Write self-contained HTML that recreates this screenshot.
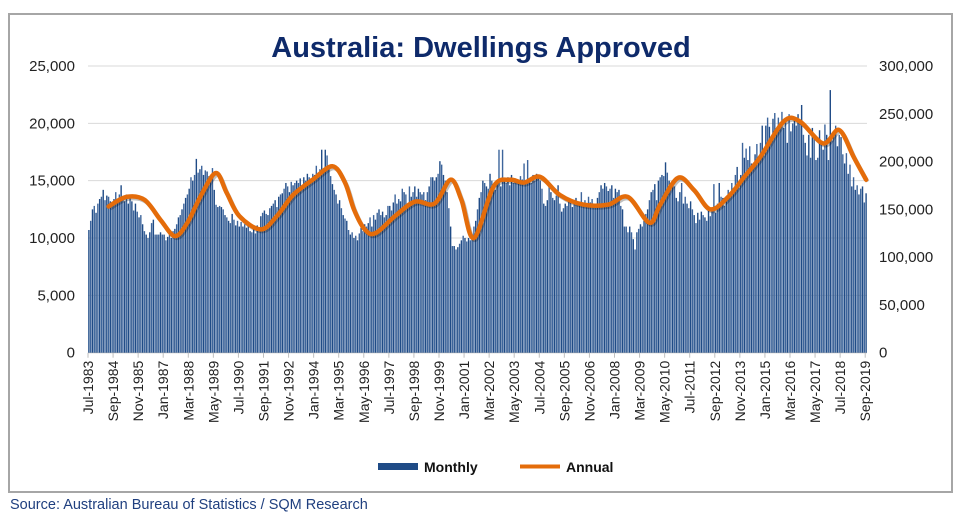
<!DOCTYPE html>
<html><head><meta charset="utf-8">
<style>
body{margin:0;background:#fff;width:964px;height:524px;overflow:hidden;font-family:"Liberation Sans",Arial,sans-serif}
#frame{position:absolute;left:8px;top:13px;width:945px;height:480px;border:2px solid #a6a6a6;box-sizing:border-box}
#src{position:absolute;left:10px;top:497px;font-size:14.5px;color:#1f3f7f}
svg{position:absolute;left:0;top:0}
</style></head><body>
<div id="frame"></div>
<div id="src">Source: Australian Bureau of Statistics / SQM Research</div>
<svg id="chart" width="964" height="524"></svg>
<script>
const monthly = [
10.7,11.5,12.5,12.8,12.2,13.0,13.4,13.6,14.2,13.3,13.7,13.6,
13.2,13.0,13.4,14.0,13.3,13.8,14.6,13.5,13.2,13.8,13.0,13.6,
13.2,12.4,13.0,12.3,11.8,12.0,11.2,10.6,10.3,10.0,10.5,11.3,
11.6,10.3,10.3,10.3,10.5,10.3,10.3,9.8,10.1,10.3,10.0,10.6,
10.8,11.2,11.8,12.0,12.5,13.0,13.5,13.8,14.3,15.3,15.0,15.5,
16.9,15.7,16.0,16.3,15.5,15.9,15.8,15.4,15.0,16.1,14.2,12.9,
12.7,12.8,12.7,12.5,12.0,11.8,11.5,11.3,12.1,11.6,11.1,11.5,
11.0,11.4,11.0,11.2,10.9,11.2,10.6,10.5,10.8,10.4,11.1,10.8,
11.9,12.2,12.4,12.1,12.0,12.6,12.8,13.0,13.3,12.7,13.6,13.8,
13.9,14.3,14.8,14.5,14.0,14.9,14.6,14.8,15.0,14.8,15.2,14.5,
15.3,15.0,15.6,15.3,15.2,15.6,15.5,16.3,15.7,16.0,17.7,16.0,
17.7,17.2,16.3,15.4,14.7,14.2,13.8,13.0,13.3,12.6,12.0,11.7,
11.5,10.7,10.3,10.5,10.0,10.2,9.8,10.4,10.9,10.6,11.2,11.0,
11.3,11.8,11.0,12.0,11.6,12.2,12.5,12.0,12.3,11.8,12.0,12.8,
12.8,12.4,13.1,13.8,13.0,13.4,13.2,14.3,14.0,13.8,13.0,14.5,
13.6,14.0,14.5,13.6,14.3,14.0,13.8,14.0,13.3,14.0,14.5,15.3,
15.3,15.0,15.3,15.6,16.7,16.4,15.5,15.0,14.0,12.6,11.0,9.3,
9.3,9.0,9.2,9.5,9.8,10.2,10.0,9.7,10.0,9.8,10.3,11.0,
11.5,12.5,13.5,14.0,15.0,14.8,14.5,14.3,15.6,15.0,14.5,14.2,
14.8,17.7,14.5,17.7,15.0,14.8,15.3,14.6,15.5,14.8,15.2,15.0,
14.9,15.4,15.1,16.5,15.0,16.8,15.2,14.8,15.5,15.0,15.6,15.3,
15.0,14.3,13.0,12.8,13.3,14.7,14.0,13.5,13.3,13.7,14.6,13.0,
12.3,12.6,13.0,12.8,13.2,13.4,12.7,13.2,13.5,13.0,12.9,14.0,
12.8,13.3,13.0,13.6,13.1,13.4,13.0,12.8,13.5,14.0,14.6,14.3,
14.8,14.5,14.1,14.3,14.6,13.5,14.3,14.0,14.2,12.8,12.5,11.0,
11.0,10.5,11.0,10.5,9.9,9.0,10.5,10.8,11.2,11.0,11.5,12.1,
12.5,13.3,14.0,14.2,14.7,13.3,15.0,15.3,15.5,15.4,16.6,15.7,
15.0,14.6,15.0,14.5,13.5,13.2,14.0,14.8,13.0,13.6,13.0,12.6,
13.2,12.5,12.0,11.3,12.2,11.6,12.3,12.0,11.8,11.5,12.5,11.9,
12.5,14.7,12.2,13.0,14.8,13.6,13.5,12.8,13.5,14.2,14.0,14.8,
14.2,15.5,16.2,14.4,15.5,18.3,17.0,17.8,16.8,18.0,16.5,16.3,
17.3,18.2,16.8,18.3,19.8,17.2,19.8,20.5,19.7,18.7,20.4,20.9,
19.5,20.5,20.1,21.0,19.6,20.4,18.3,20.8,19.3,20.0,20.5,19.8,
20.8,20.3,21.6,19.0,18.3,17.2,19.0,17.0,19.6,18.8,16.8,17.0,
19.4,18.2,17.7,19.9,19.0,16.8,22.9,18.5,19.0,19.8,18.0,19.0,
18.8,17.3,16.5,17.4,15.6,16.4,14.5,15.3,14.2,14.6,13.8,14.3,
14.5,13.1,13.9];
const annualIdx = [11,21,31,40,48,55,63,71,77,84,96,105,114,125,136,143,148,154,160,171,182,193,202,208,215,226,235,243,252,263,276,290,301,313,319,329,338,347,357,366,375,388,397,410,419,427,434];
const annualVal = [153,163,160,139,122,136,166,188,167,143,129,143,165,181,195,178,150,129,125,143,158,156,181,160,120,174,181,178,184,165,155,155,163,136,155,183,170,150,163,184,205,242,242,219,233,205,181];
const leftTicks = [0,5000,10000,15000,20000,25000];
const rightTicks = [0,50000,100000,150000,200000,250000,300000];
const xLabels = ["Jul-1983","Sep-1984","Nov-1985","Jan-1987","Mar-1988","May-1989","Jul-1990","Sep-1991","Nov-1992","Jan-1994","Mar-1995","May-1996","Jul-1997","Sep-1998","Nov-1999","Jan-2001","Mar-2002","May-2003","Jul-2004","Sep-2005","Nov-2006","Jan-2008","Mar-2009","May-2010","Jul-2011","Sep-2012","Nov-2013","Jan-2015","Mar-2016","May-2017","Jul-2018","Sep-2019"];

const NS="http://www.w3.org/2000/svg";
const svg=document.getElementById('chart');
const X0=88,X1=867,Y0=352.7,YT=66;
const N=monthly.length;
const step=(X1-X0)/N;
const xPos=i=>X0+(i+0.5)*step;
const yL=v=>Y0-(v/25000)*(Y0-YT);
const yR=v=>Y0-(v/300000)*(Y0-YT);
function mk(t,a,p){const e=document.createElementNS(NS,t);for(const k in a)e.setAttribute(k,a[k]);(p||svg).appendChild(e);return e;}

const title=mk('text',{x:481,y:57,'text-anchor':'middle','font-size':29,'font-weight':'bold',fill:'#0e2a6a'});
title.textContent='Australia: Dwellings Approved';



leftTicks.forEach(t=>{
  const g=mk('line',{x1:X0,x2:X1,y1:yL(t),y2:yL(t),stroke:t?'#d9d9d9':'#bfbfbf','stroke-width':1});
  
  
  const l=mk('text',{x:75,y:yL(t)+5,'text-anchor':'end','font-size':15,fill:'#222'});
  l.textContent=t.toLocaleString('en-US');
  
  
});
rightTicks.forEach(t=>{
  const l=mk('text',{x:879,y:yR(t)+5,'text-anchor':'start','font-size':15,fill:'#222'});
  l.textContent=t.toLocaleString('en-US');
  
  
});
monthly.forEach((v,i)=>{
  const y=yL(v*1000);
  const b=mk('rect',{x:xPos(i)-0.7,y:y,width:1.4,height:Y0-y,fill:(i%2)?'#3d659c':'#1f4b86'});
  
  
});
xLabels.forEach((s,k)=>{
  const x=X0+k*14*step;
  const tk=mk('line',{x1:x,x2:x,y1:Y0,y2:Y0+5,stroke:'#bfbfbf'});
  
  
  const l=mk('text',{x:0,y:0,'text-anchor':'end','font-size':14,fill:'#222',transform:`translate(${x+5},${Y0+8}) rotate(-90)`});
  l.textContent=s;
  
  
});
const pts=annualIdx.map((i,k)=>[xPos(i),yR(annualVal[k]*1000)]);
let d='M'+pts[0][0].toFixed(1)+','+pts[0][1].toFixed(1);
for(let k=0;k<pts.length-1;k++){
  const p0=pts[Math.max(0,k-1)],p1=pts[k],p2=pts[k+1],p3=pts[Math.min(pts.length-1,k+2)];
  const c1=[p1[0]+(p2[0]-p0[0])/6,p1[1]+(p2[1]-p0[1])/6];
  const c2=[p2[0]-(p3[0]-p1[0])/6,p2[1]-(p3[1]-p1[1])/6];
  d+=`C${c1[0].toFixed(1)},${c1[1].toFixed(1)} ${c2[0].toFixed(1)},${c2[1].toFixed(1)} ${p2[0].toFixed(1)},${p2[1].toFixed(1)}`;
}
const sh=mk('path',{d:d,fill:'none',stroke:'rgba(0,0,0,0.25)','stroke-width':4,'stroke-linejoin':'round',transform:'translate(1.5,2)'});


const ln=mk('path',{d:d,fill:'none',stroke:'#e46c0a','stroke-width':4.5,'stroke-linejoin':'round','stroke-linecap':'round'});



const lg1=mk('rect',{x:378,y:463,width:40,height:7,fill:'#1f4b86'});


const lt1=mk('text',{x:424,y:472,'font-size':14,'font-weight':'bold',fill:'#111'});
lt1.textContent='Monthly';


const lg2=mk('line',{x1:520,x2:560,y1:466.5,y2:466.5,stroke:'#e46c0a','stroke-width':4});


const lt2=mk('text',{x:566,y:472,'font-size':14,'font-weight':'bold',fill:'#111'});
lt2.textContent='Annual';


</script>
</body></html>
